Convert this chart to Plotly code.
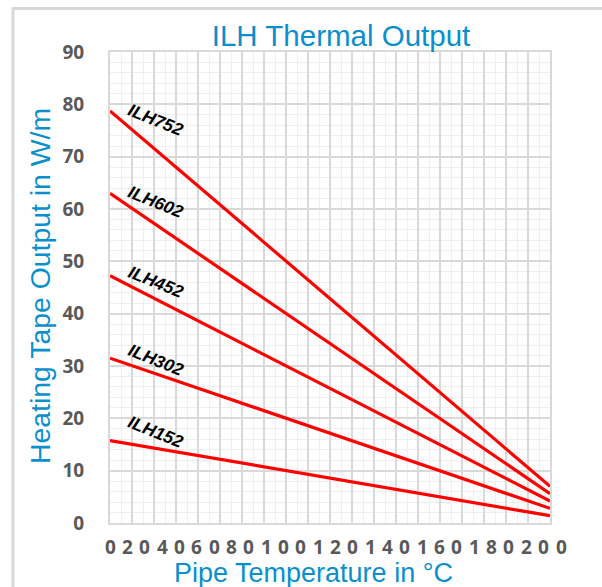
import plotly.graph_objects as go

# ---- data ----
series_names = ["ILH752", "ILH602", "ILH452", "ILH302", "ILH152"]
temps = [0, 200]
out_752 = [78.75, 7.0]
out_602 = [63.0, 5.6]
out_452 = [47.25, 4.2]
out_302 = [31.5, 2.8]
out_152 = [15.75, 1.4]
series_values = [out_752, out_602, out_452, out_302, out_152]
label_x = [21, 21, 21, 21, 21]
label_y = [77.1, 61.4, 46.0, 31.1, 17.4]
x_tick_labels = ["0", "20", "40", "60", "80", "100", "120", "140", "160", "180", "200"]
y_tick_vals = [0, 10, 20, 30, 40, 50, 60, 70, 80, 90]

BLUE = "#0A8FCC"
GRAY_TXT = "#595959"
GRID = "#D9D9D9"
MINOR = "#EFEFEF"

W, H = 602, 587
L, R, T, B = 110, 52, 52, 64
PW, PH = W - L - R, H - T - B
X_MAX = 200

def px_x(x):
    return (x - L) / PW

def px_y(y):
    return (H - B - y) / PH

fig = go.Figure()
for name, vals in zip(series_names, series_values):
    fig.add_trace(go.Scatter(x=temps, y=vals, mode="lines", name=name,
                             line=dict(color="#FF0000", width=3.2),
                             showlegend=False, hoverinfo="skip"))

# series labels
for name, lx, ly in zip(series_names, label_x, label_y):
    fig.add_annotation(x=lx, y=ly, xref="x", yref="y", text=name, showarrow=False,
                       textangle=22,
                       font=dict(family="Liberation Sans", size=17.5, color="#000000",
                                 weight="bold", style="italic"))

# x tick labels: characters spread evenly across the axis as in the original
chars = list("".join(x_tick_labels))
step = 7.885  # in axis units
for i, ch in enumerate(chars):
    fig.add_annotation(x=i * step / X_MAX, y=px_y(547), xref="paper", yref="paper", text=ch,
                       showarrow=False, xanchor="center", yanchor="middle",
                       font=dict(family="Open Sans", size=19, color=GRAY_TXT, weight="bold"))

# axis titles
fig.add_annotation(x=px_x(313), y=px_y(573), xref="paper", yref="paper",
                   text="Pipe Temperature in °C", showarrow=False,
                   xanchor="center", yanchor="middle",
                   font=dict(family="Liberation Sans", size=27, color=BLUE))
fig.add_annotation(x=px_x(40), y=px_y(286), xref="paper", yref="paper",
                   text="Heating Tape Output in W/m", showarrow=False, textangle=-90,
                   xanchor="center", yanchor="middle",
                   font=dict(family="Liberation Sans", size=28.4, color=BLUE))

# outer chart frame
fig.add_shape(type="rect", xref="paper", yref="paper",
              x0=px_x(13), x1=1.3, y0=-0.3, y1=px_y(8.5),
              line=dict(color=GRID, width=3), fillcolor="rgba(0,0,0,0)", layer="below")

fig.update_layout(
    width=W, height=H,
    margin=dict(l=L, r=R, t=T, b=B),
    paper_bgcolor="white", plot_bgcolor="white",
    title=dict(text="ILH Thermal Output", x=px_x(341), xref="paper", xanchor="center",
               y=1 - 36 / H, yanchor="middle",
               font=dict(family="Liberation Sans", size=29.5, color=BLUE)),
    xaxis=dict(range=[0, X_MAX], dtick=10, showticklabels=False, automargin=False,
               showgrid=True, gridcolor=GRID, gridwidth=2,
               minor=dict(dtick=5, showgrid=True, gridcolor=MINOR, gridwidth=1),
               showline=True, linecolor=GRID, linewidth=2, mirror=True,
               zeroline=False),
    yaxis=dict(range=[0, 90], tickvals=y_tick_vals, automargin=False,
               ticklabelstandoff=20,
               tickfont=dict(family="Open Sans", size=19, color=GRAY_TXT, weight="bold"),
               showgrid=True, gridcolor=GRID, gridwidth=2,
               minor=dict(dtick=2, showgrid=True, gridcolor=MINOR, gridwidth=1),
               showline=True, linecolor=GRID, linewidth=2, mirror=True,
               zeroline=False),
)

fig.write_html("out.html", config={"displayModeBar": False},
               post_script="document.body.style.margin='0';document.body.style.overflow='hidden';")
